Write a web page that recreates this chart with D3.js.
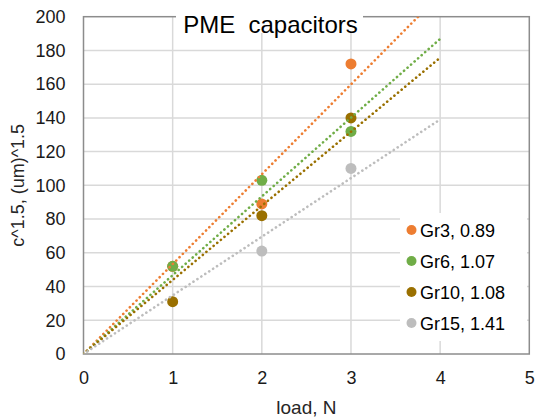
<!DOCTYPE html>
<html><head><meta charset="utf-8">
<script src="https://cdn.jsdelivr.net/npm/d3@7"></script>
<style>body{margin:0;background:#fff}svg{display:block;font-family:Arial,"Liberation Sans",sans-serif}text{white-space:pre}</style>
</head><body>
<svg id="c" width="535" height="417"></svg>
<script>
// ---- data ----
const xTicks = [0, 1, 2, 3, 4, 5];
const yTicks = [0, 20, 40, 60, 80, 100, 120, 140, 160, 180, 200];
const seriesNames = ["Gr3, 0.89", "Gr6, 1.07", "Gr10, 1.08", "Gr15, 1.41"];
const seriesColors = ["#ED7D31", "#70AD47", "#9A7000", "#BDBDBD"];
const gr3X = [1, 2, 3];   const gr3Y = [52, 89, 172];
const gr6X = [1, 2, 3];   const gr6Y = [52, 103, 132];
const gr10X = [1, 2, 3];  const gr10Y = [31, 82, 140];
const gr15X = [2, 3];     const gr15Y = [61, 110];
const trendMaxX = 4;
const titleText = "PME  capacitors";
const xTitle = "load, N";
const yTitle = "c^1.5, (um)^1.5";

const series = [
  {name: seriesNames[0], color: seriesColors[0], xs: gr3X, ys: gr3Y},
  {name: seriesNames[1], color: seriesColors[1], xs: gr6X, ys: gr6Y},
  {name: seriesNames[2], color: seriesColors[2], xs: gr10X, ys: gr10Y},
  {name: seriesNames[3], color: seriesColors[3], xs: gr15X, ys: gr15Y}
];

// ---- layout ----
const L = 83.5, R = 529.3, T = 16.7, B = 354;
const x = d3.scaleLinear().domain([0, 5]).range([L, R]);
const y = d3.scaleLinear().domain([0, 200]).range([B, T]);
const svg = d3.select("#c");

svg.append("defs").append("clipPath").attr("id", "clip")
  .append("rect").attr("x", L).attr("y", T).attr("width", R - L).attr("height", B - T);

// gridlines
const grid = svg.append("g");
grid.selectAll(".gy").data(yTicks.slice(1, -1)).join("line")
  .attr("x1", L).attr("x2", R).attr("y1", d => y(d)).attr("y2", d => y(d))
  .attr("stroke", "#d9d9d9").attr("stroke-width", 1.5);
grid.selectAll(".gx").data(xTicks.slice(1, -1)).join("line")
  .attr("y1", T).attr("y2", B).attr("x1", d => x(d)).attr("x2", d => x(d))
  .attr("stroke", "#d9d9d9").attr("stroke-width", 1.5);

// frame
svg.append("rect").attr("x", L).attr("y", T).attr("width", R - L).attr("height", B - T)
  .attr("fill", "none").attr("stroke", "#8c8c8c").attr("stroke-width", 1.5);

// axes (labels)
const xAxis = svg.append("g").attr("transform", `translate(0,${B})`)
  .call(d3.axisBottom(x).tickValues(xTicks).tickFormat(d3.format("d")).tickSize(0).tickPadding(17));
const yAxis = svg.append("g").attr("transform", `translate(${L},0)`)
  .call(d3.axisLeft(y).tickValues(yTicks).tickFormat(d3.format("d")).tickSize(0).tickPadding(18));
[xAxis, yAxis].forEach(a => {
  a.select(".domain").remove();
  a.selectAll("text").attr("font-size", 18).attr("fill", "#1a1a1a")
    .attr("font-family", "Arial, 'Liberation Sans', sans-serif");
});

// markers
const pts = svg.append("g");
series.forEach(s => {
  pts.selectAll(null).data(s.xs.map((v, i) => [v, s.ys[i]])).join("circle")
    .attr("cx", d => x(d[0])).attr("cy", d => y(d[1])).attr("r", 5.5).attr("fill", s.color);
});

// trendlines (linear, intercept 0)
const tg = svg.append("g").attr("clip-path", "url(#clip)");
series.forEach(s => {
  const sxy = d3.sum(s.xs, (v, i) => v * s.ys[i]);
  const sxx = d3.sum(s.xs, v => v * v);
  const k = sxy / sxx;
  tg.append("line")
    .attr("x1", x(0)).attr("y1", y(0)).attr("x2", x(trendMaxX)).attr("y2", y(k * trendMaxX))
    .attr("stroke", s.color).attr("stroke-width", 2.6)
    .attr("stroke-linecap", "round").attr("stroke-dasharray", "0.1 4.6");
});

// title
svg.append("rect").attr("x", 176).attr("y", 5).attr("width", 187).attr("height", 28).attr("fill", "#fff");
svg.append("text").attr("x", 270.5).attr("y", 33).attr("text-anchor", "middle")
  .attr("font-size", 24).attr("fill", "#000").text(titleText);

// axis titles
svg.append("text").attr("x", (L + R) / 2).attr("y", 414).attr("text-anchor", "middle")
  .attr("font-size", 19).attr("fill", "#262626").text(xTitle);
svg.append("text").attr("transform", `translate(24,${(T + B) / 2}) rotate(-90)`)
  .attr("text-anchor", "middle").attr("font-size", 18).attr("fill", "#262626").text(yTitle);

// legend
const lg = svg.append("g");
lg.append("rect").attr("x", 400).attr("y", 213).attr("width", 127).attr("height", 128).attr("fill", "#fff");
series.forEach((s, i) => {
  const cy = 230 + i * 31;
  lg.append("circle").attr("cx", 411.5).attr("cy", cy).attr("r", 5).attr("fill", s.color);
  lg.append("text").attr("x", 420).attr("y", cy + 6.5).attr("font-size", 18).attr("fill", "#000").text(s.name);
});
</script>
</body></html>
